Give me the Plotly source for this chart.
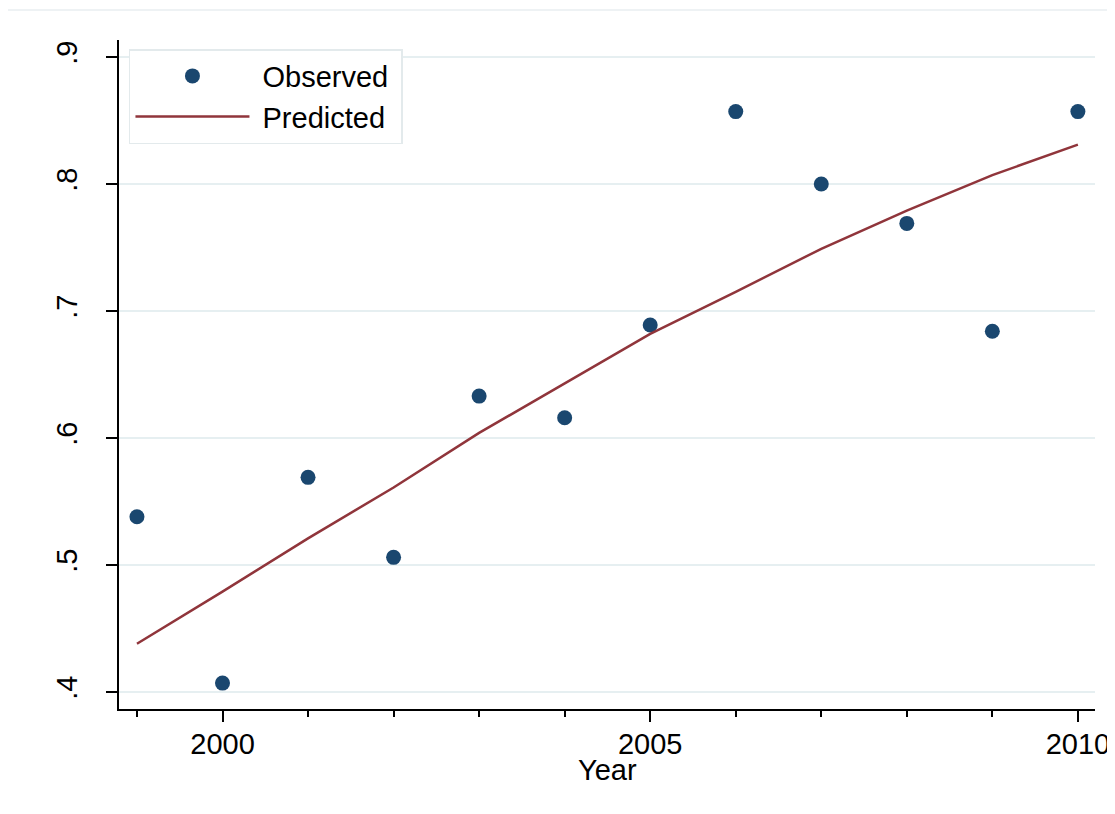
import plotly.graph_objects as go

years = [1999, 2000, 2001, 2002, 2003, 2004, 2005, 2006, 2007, 2008, 2009, 2010]
observed = [0.538, 0.407, 0.569, 0.506, 0.633, 0.616, 0.689, 0.857, 0.800, 0.769, 0.684, 0.857]
predicted = [0.438, 0.479, 0.521, 0.561, 0.604, 0.643, 0.682, 0.715, 0.749, 0.779, 0.807, 0.831]
y_ticks = [0.4, 0.5, 0.6, 0.7, 0.8, 0.9]
y_ticklabels = [".4", ".5", ".6", ".7", ".8", ".9"]
x_ticks = [2000, 2005, 2010]

FONT = "Liberation Sans, Arial, sans-serif"
NAVY = "#1a476f"
MAROON = "#90353b"
GRID = "#e6eff1"
FS = 29

fig = go.Figure()
fig.add_trace(go.Scatter(x=years, y=observed, mode="markers", name="\u00a0Observed\u00a0",
                         marker=dict(color=NAVY, size=15, line=dict(width=0))))
fig.add_trace(go.Scatter(x=years, y=predicted, mode="lines", name="\u00a0Predicted\u00a0",
                         line=dict(color=MAROON, width=2.5)))

fig.update_layout(
    width=1115, height=814,
    margin=dict(l=111, r=28, t=32, b=113, autoexpand=False),
    paper_bgcolor="white", plot_bgcolor="white",
    font=dict(family=FONT, size=FS, color="black"),
    showlegend=True,
    legend=dict(x=0.0102, y=0.9865, xanchor="left", yanchor="top",
                bgcolor="white", bordercolor="#e3eaec", borderwidth=1.5,
                font=dict(size=FS), itemwidth=114, traceorder="normal"),
    xaxis=dict(range=[1998.79, 2010.2], tickmode="array", tickvals=x_ticks,
               ticks="outside", ticklen=11, tickwidth=1.5, tickcolor="black",
               showline=True, linecolor="black", linewidth=1.5,
               showgrid=False, zeroline=False, automargin=False,
               minor=dict(dtick=1, tick0=1999, ticks="outside", ticklen=6,
                          tickwidth=1.5, tickcolor="black", showgrid=False),
               tickfont=dict(size=FS), ticklabelstandoff=-3),
    yaxis=dict(range=[0.3866, 0.9134], tickmode="array", tickvals=y_ticks,
               ticktext=y_ticklabels, tickangle=-90,
               ticks="outside", ticklen=11, tickwidth=1.5, tickcolor="black",
               showline=True, linecolor="black", linewidth=1.5,
               showgrid=True, gridcolor=GRID, gridwidth=2, zeroline=False,
               automargin=False,
               tickfont=dict(size=FS), ticklabelstandoff=18),
    annotations=[dict(text="Year", xref="paper", yref="paper", x=0.5, y=-0.0912,
                      xanchor="center", yanchor="middle", showarrow=False,
                      font=dict(size=FS))],
    shapes=[dict(type="line", xref="paper", yref="paper",
                 x0=-0.117, x1=1.03, y0=1.0448, y1=1.0448,
                 line=dict(color="#e8eef0", width=1.5))],
)

fig.write_html("out.html")
